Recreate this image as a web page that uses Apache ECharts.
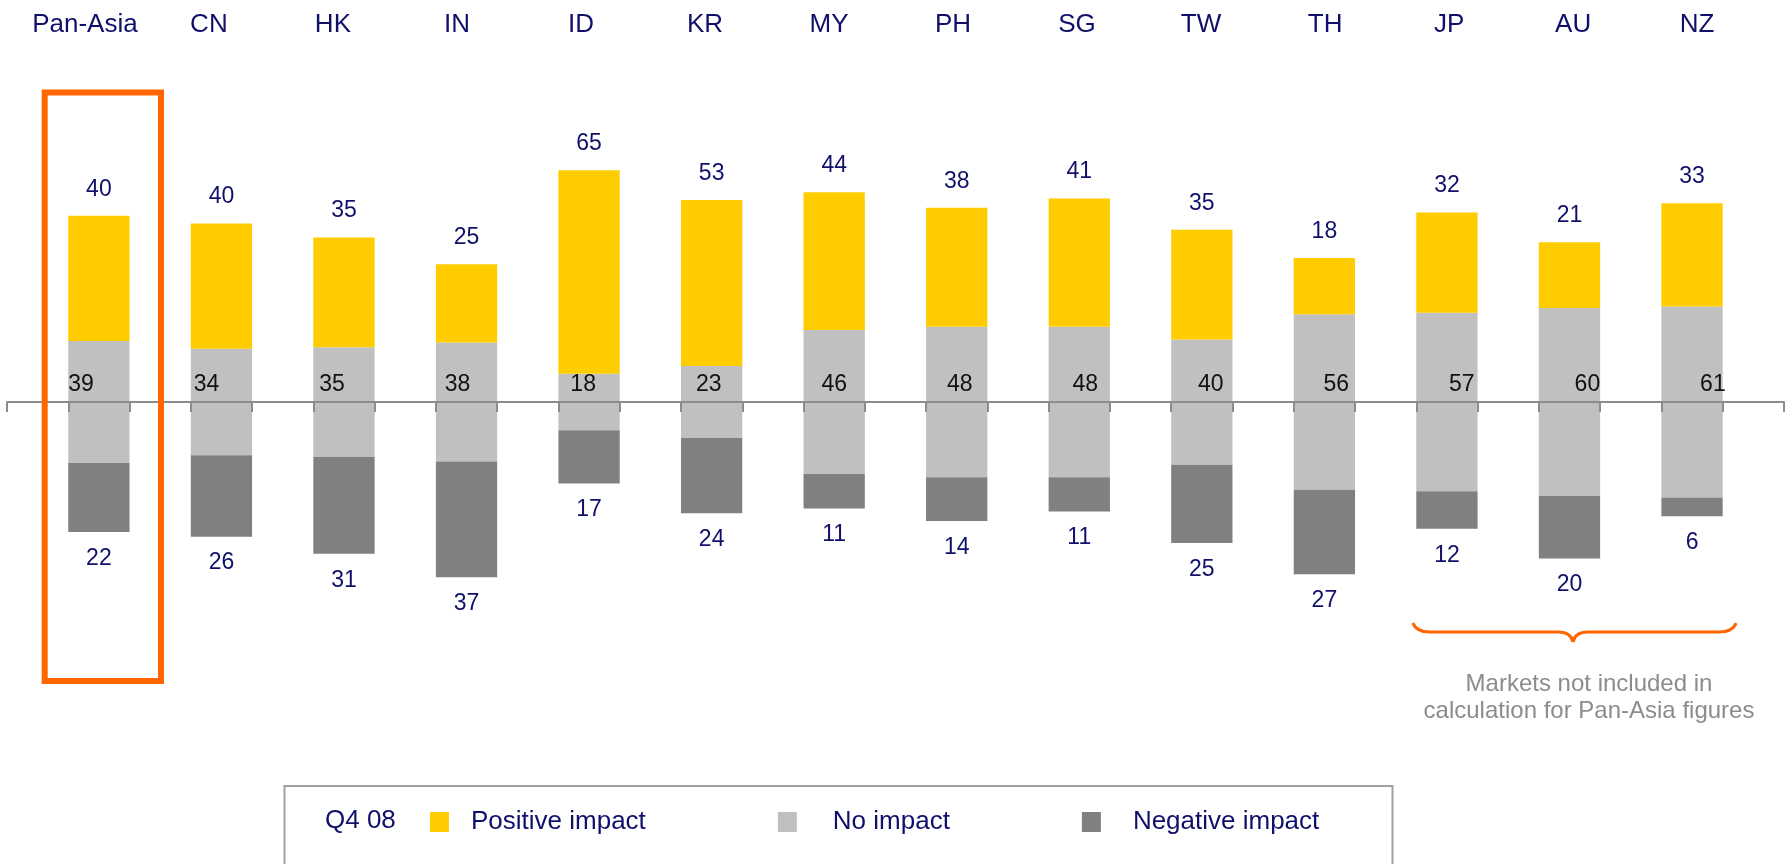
<!DOCTYPE html>
<html>
<head>
<meta charset="utf-8">
<script src="https://cdn.jsdelivr.net/npm/echarts@6/dist/echarts.min.js"></script>
<style>
  html, body { margin: 0; padding: 0; background: #fff; }
  #chart { width: 1787px; height: 864px; }
</style>
</head>
<body>
<div id="chart"></div>
<script>
// markets (top labels)
const markets = ['Pan-Asia', 'CN', 'HK', 'IN', 'ID', 'KR', 'MY', 'PH', 'SG', 'TW', 'TH', 'JP', 'AU', 'NZ']
// Q4 08, % of respondents
const positiveImpact = [40, 40, 35, 25, 65, 53, 44, 38, 41, 35, 18, 32, 21, 33]
const noImpact = [39, 34, 35, 38, 18, 23, 46, 48, 48, 40, 56, 57, 60, 61]
const negativeImpact = [22, 26, 31, 37, 17, 24, 11, 14, 11, 25, 27, 12, 20, 6]

const NAVY = '#10106b'
const FONT = 'Liberation Sans, Arial, sans-serif'
const ORANGE = '#ff6600'

const chart = echarts.init(document.getElementById('chart'))

// top labels drift a little to the right across the row
const categoryData = markets.map((m, i) => {
  const s = -14 + 1.47 * i
  return {
    value: m,
    textStyle: { padding: [0, Math.max(0, -2 * s), 0, Math.max(0, 2 * s)] }
  }
})

// ticks of the zero line sit at every bar edge
const tickSlots = Array.from({ length: markets.length * 2 + 1 }, (_, i) => 't' + i)

const gridTop = 151.5
const gridBottom = 211.5

function braceSeg(type, shape) {
  return { type: type, shape: shape, style: { fill: 'none', stroke: ORANGE, lineWidth: 3 } }
}

chart.setOption({
  animation: false,
  textStyle: { fontFamily: FONT },
  grid: [
    { left: 37.6, right: 33.7, top: gridTop, bottom: gridBottom },
    { left: 7, right: 3, top: gridTop, bottom: gridBottom }
  ],
  legend: {
    data: [
      { name: 'Positive impact', textStyle: { padding: [0, 0, 0, 17] } },
      { name: 'No impact', textStyle: { padding: [0, 7, 0, 31] } },
      { name: 'Negative impact', textStyle: { padding: [0, 0, 0, 27] } }
    ],
    left: 430,
    top: 809,
    padding: 0,
    itemWidth: 19,
    itemHeight: 20,
    itemGap: 132,
    icon: 'rect',
    selectedMode: false,
    textStyle: { color: NAVY, fontSize: 26, fontFamily: FONT }
  },
  xAxis: [
    {
      gridIndex: 0,
      type: 'category',
      data: categoryData,
      position: 'top',
      axisLine: { show: false },
      axisTick: { show: false },
      axisLabel: { interval: 0, margin: 114, fontSize: 26, color: NAVY, fontFamily: FONT }
    },
    {
      gridIndex: 1,
      type: 'category',
      data: tickSlots,
      position: 'bottom',
      z: 5,
      axisLine: { onZero: true, lineStyle: { color: '#8c8c8c', width: 2 } },
      axisTick: { show: true, interval: 0, length: 10, lineStyle: { color: '#8c8c8c', width: 2 } },
      axisLabel: { show: false }
    }
  ],
  yAxis: [
    { gridIndex: 0, type: 'value', min: -80, max: 80, show: false },
    { gridIndex: 1, type: 'value', min: -80, max: 80, show: false }
  ],
  series: [
    {
      name: 'No impact',
      type: 'bar',
      stack: 'total',
      barWidth: 61.3,
      itemStyle: { color: '#c0c0c0' },
      data: noImpact.map((v, i) => ({
        value: v / 2,
        label: { offset: [-6 + 2.98 * i, 0] }
      })),
      label: {
        show: true,
        position: 'insideBottomLeft',
        distance: 6,
        fontSize: 23,
        color: '#111',
        fontFamily: FONT,
        formatter: p => noImpact[p.dataIndex]
      }
    },
    {
      name: 'Positive impact',
      type: 'bar',
      stack: 'total',
      barWidth: 61.3,
      itemStyle: { color: '#ffcc00' },
      data: positiveImpact,
      label: {
        show: true,
        position: 'top',
        distance: 15,
        fontSize: 23,
        color: NAVY,
        fontFamily: FONT
      }
    },
    {
      name: 'No impact',
      type: 'bar',
      stack: 'total',
      barWidth: 61.3,
      itemStyle: { color: '#c0c0c0' },
      data: noImpact.map(v => -v / 2)
    },
    {
      name: 'Negative impact',
      type: 'bar',
      stack: 'total',
      barWidth: 61.3,
      itemStyle: { color: '#808080' },
      data: negativeImpact.map(v => -v),
      label: {
        show: true,
        position: 'bottom',
        distance: 15,
        fontSize: 23,
        color: NAVY,
        fontFamily: FONT,
        formatter: p => Math.abs(p.value)
      }
    }
  ],
  graphic: [
    // Pan-Asia highlight
    {
      type: 'rect',
      shape: { x: 44.7, y: 92.5, width: 116.3, height: 588.5 },
      style: { fill: 'none', stroke: ORANGE, lineWidth: 6 },
      z: 10
    },
    // brace under JP / AU / NZ
    braceSeg('bezierCurve', { x1: 1413, y1: 623, cpx1: 1416, cpy1: 632, x2: 1430, y2: 632 }),
    braceSeg('line', { x1: 1430, y1: 632, x2: 1558, y2: 632 }),
    braceSeg('bezierCurve', { x1: 1558, y1: 632, cpx1: 1571, cpy1: 632, x2: 1573, y2: 642 }),
    braceSeg('bezierCurve', { x1: 1573, y1: 642, cpx1: 1575, cpy1: 632, x2: 1588, y2: 632 }),
    braceSeg('line', { x1: 1588, y1: 632, x2: 1719, y2: 632 }),
    braceSeg('bezierCurve', { x1: 1719, y1: 632, cpx1: 1733, cpy1: 632, x2: 1736, y2: 623 }),
    {
      type: 'text',
      x: 1589,
      y: 671,
      style: {
        text: 'Markets not included in\ncalculation for Pan-Asia figures',
        align: 'center',
        fontSize: 24,
        lineHeight: 27,
        fill: '#8c8c8c',
        fontFamily: FONT
      }
    },
    // legend frame
    {
      type: 'rect',
      shape: { x: 284.5, y: 786, width: 1108, height: 120 },
      style: { fill: 'none', stroke: '#a0a0a0', lineWidth: 2 }
    },
    {
      type: 'text',
      x: 325,
      y: 808,
      style: { text: 'Q4 08', fontSize: 26, fill: NAVY, fontFamily: FONT }
    }
  ]
})
</script>
</body>
</html>
